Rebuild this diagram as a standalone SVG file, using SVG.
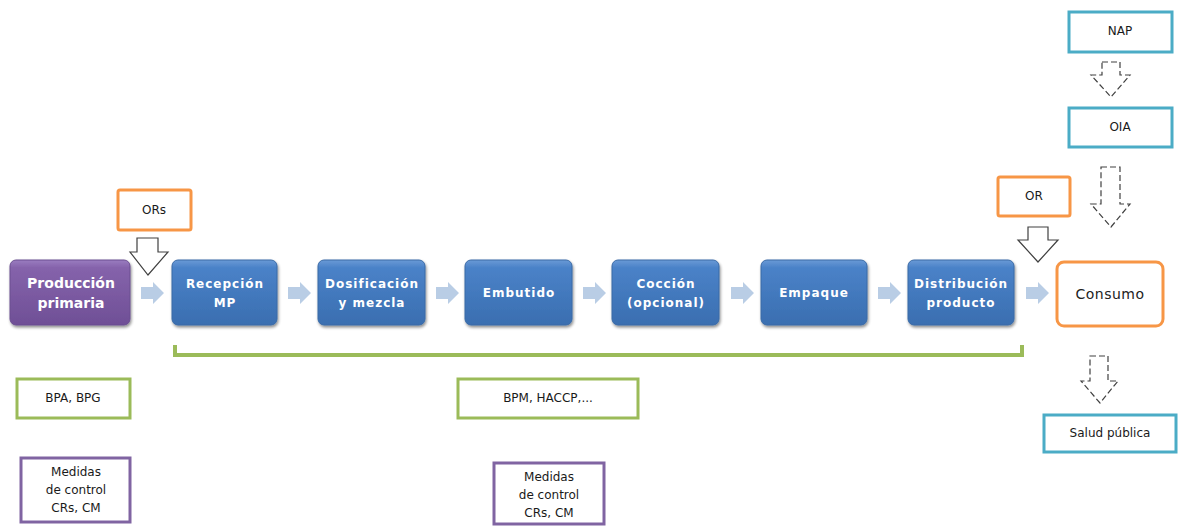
<svg xmlns="http://www.w3.org/2000/svg" width="1179" height="527" viewBox="0 0 1179 527">
  <defs>
    <linearGradient id="gBlue" x1="0" y1="0" x2="0" y2="1">
      <stop offset="0" stop-color="#6a9ad6"/>
      <stop offset="0.12" stop-color="#4a82c8"/>
      <stop offset="1" stop-color="#3a6eb0"/>
    </linearGradient>
    <linearGradient id="gPurple" x1="0" y1="0" x2="0" y2="1">
      <stop offset="0" stop-color="#9a7cc0"/>
      <stop offset="0.12" stop-color="#8563ab"/>
      <stop offset="1" stop-color="#6f4f96"/>
    </linearGradient>
    <filter id="shadow" x="-10%" y="-10%" width="125%" height="130%">
      <feGaussianBlur in="SourceAlpha" stdDeviation="1.5"/>
      <feOffset dx="1" dy="2" result="b"/>
      <feComponentTransfer><feFuncA type="linear" slope="0.45"/></feComponentTransfer>
      <feMerge><feMergeNode/><feMergeNode in="SourceGraphic"/></feMerge>
    </filter>
    <path id="flowArrow" d="M0,5 H12 V0 L23,11 L12,22 V17 H0 Z"/>
  </defs>
  <style>
    .step { fill: url(#gBlue); stroke: #3a6aa6; stroke-width: 1; }
    .stepTxt { font-family: "DejaVu Sans", sans-serif; font-size: 12px; font-weight: bold; fill: #ffffff; text-anchor: middle; letter-spacing: 1px; }
    .frame { fill: #ffffff; stroke-width: 3; }
    .orange { stroke: #f79646; }
    .teal { stroke: #4bacc6; }
    .green { stroke: #9bbb59; }
    .violet { stroke: #8064a2; }
    .lbl { font-family: "DejaVu Sans", sans-serif; font-size: 12px; fill: #1a1a1a; text-anchor: middle; }
    .flow { fill: #b9cde5; }
    .hollow { fill: #ffffff; stroke: #404040; stroke-width: 1.2; }
    .dashed { fill: #ffffff; stroke: #404040; stroke-width: 1.2; stroke-dasharray: 6 3; }
  </style>

  <!-- process chain -->
  <g id="produccion-primaria">
    <rect x="10" y="260" width="120" height="65" rx="6" fill="url(#gPurple)" stroke="#6b4f90" filter="url(#shadow)"/>
    <text x="71" y="288" font-family="DejaVu Sans, sans-serif" font-size="14" font-weight="bold" fill="#fff" text-anchor="middle">Producción</text>
    <text x="71" y="308" font-family="DejaVu Sans, sans-serif" font-size="14" font-weight="bold" fill="#fff" text-anchor="middle">primaria</text>
  </g>
  <g id="recepcion">
    <rect class="step" x="172" y="260" width="105" height="65" rx="6" filter="url(#shadow)"/>
    <text class="stepTxt" x="225" y="288">Recepción</text>
    <text class="stepTxt" x="225" y="307">MP</text>
  </g>
  <g id="dosificacion">
    <rect class="step" x="318" y="260" width="107" height="65" rx="6" filter="url(#shadow)"/>
    <text class="stepTxt" x="372" y="288">Dosificación</text>
    <text class="stepTxt" x="372" y="307">y mezcla</text>
  </g>
  <g id="embutido">
    <rect class="step" x="465" y="260" width="107" height="65" rx="6" filter="url(#shadow)"/>
    <text class="stepTxt" x="519" y="297">Embutido</text>
  </g>
  <g id="coccion">
    <rect class="step" x="612" y="260" width="107" height="65" rx="6" filter="url(#shadow)"/>
    <text class="stepTxt" x="666" y="288">Cocción</text>
    <text class="stepTxt" x="666" y="307">(opcional)</text>
  </g>
  <g id="empaque">
    <rect class="step" x="761" y="260" width="106" height="65" rx="6" filter="url(#shadow)"/>
    <text class="stepTxt" x="814" y="297">Empaque</text>
  </g>
  <g id="distribucion">
    <rect class="step" x="908" y="260" width="106" height="65" rx="6" filter="url(#shadow)"/>
    <text class="stepTxt" x="961" y="288">Distribución</text>
    <text class="stepTxt" x="961" y="307">producto</text>
  </g>
  <g id="consumo">
    <rect class="frame orange" x="1057" y="262" width="106" height="64" rx="7"/>
    <text x="1110" y="299" font-family="DejaVu Sans, sans-serif" font-size="14" fill="#222" text-anchor="middle" letter-spacing="0.5">Consumo</text>
  </g>

  <!-- regulating bodies -->
  <g id="ors">
    <rect class="frame orange" x="118" y="190" width="73" height="40" rx="2"/>
    <text class="lbl" x="154" y="214">ORs</text>
  </g>
  <g id="or">
    <rect class="frame orange" x="998" y="177" width="72" height="39" rx="2"/>
    <text class="lbl" x="1034" y="200">OR</text>
  </g>
  <g id="nap">
    <rect class="frame teal" x="1069" y="12" width="103" height="40"/>
    <text class="lbl" x="1120" y="35">NAP</text>
  </g>
  <g id="oia">
    <rect class="frame teal" x="1069" y="108" width="103" height="39"/>
    <text class="lbl" x="1120" y="131">OIA</text>
  </g>
  <g id="salud-publica">
    <rect class="frame teal" x="1044" y="415" width="132" height="37"/>
    <text class="lbl" x="1110" y="437">Salud pública</text>
  </g>

  <!-- good practices and control measures -->
  <g id="bpa-bpg">
    <rect class="frame green" x="17" y="379" width="113" height="39"/>
    <text class="lbl" x="73" y="402">BPA, BPG</text>
  </g>
  <g id="bpm-haccp">
    <rect class="frame green" x="458" y="379" width="180" height="39"/>
    <text class="lbl" x="548" y="402">BPM, HACCP,...</text>
  </g>
  <g id="medidas-1">
    <rect class="frame violet" x="21" y="458" width="109" height="64"/>
    <text class="lbl" x="76" y="476">Medidas</text>
    <text class="lbl" x="76" y="494">de control</text>
    <text class="lbl" x="76" y="512">CRs, CM</text>
  </g>
  <g id="medidas-2">
    <rect class="frame violet" x="494" y="463" width="110" height="61"/>
    <text class="lbl" x="549" y="481">Medidas</text>
    <text class="lbl" x="549" y="499">de control</text>
    <text class="lbl" x="549" y="517">CRs, CM</text>
  </g>

  <!-- connectors -->
  <g id="connectors">
    <use href="#flowArrow" class="flow" x="141" y="282"/>
    <use href="#flowArrow" class="flow" x="288" y="282"/>
    <use href="#flowArrow" class="flow" x="436" y="282"/>
    <use href="#flowArrow" class="flow" x="583" y="282"/>
    <use href="#flowArrow" class="flow" x="731" y="282"/>
    <use href="#flowArrow" class="flow" x="878" y="282"/>
    <use href="#flowArrow" class="flow" x="1026" y="282"/>

    <!-- hollow arrows from the regional bodies -->
    <path class="hollow" d="M137,238 H158 V252 H168 L148,275 L130,252 H137 Z"/>
    <path class="hollow" d="M1028,227 H1048 V240 H1058 L1038,262 L1018,240 H1028 Z"/>

    <!-- dashed arrows in the authority chain -->
    <path class="dashed" d="M1102,62 H1120 V75 H1130 L1111,97 L1091,75 H1102 Z"/>
    <path class="dashed" d="M1101,167 H1120 V204 H1130 L1111,227 L1091,204 H1101 Z"/>
    <path class="dashed" d="M1090,356 H1108 V381 H1118 L1100,403 L1081,381 H1090 Z"/>

    <!-- bracket spanning the processing steps -->
    <path d="M175,345 V355 H1022 V345" fill="none" stroke="#9bbb59" stroke-width="4"/>
  </g>
</svg>
